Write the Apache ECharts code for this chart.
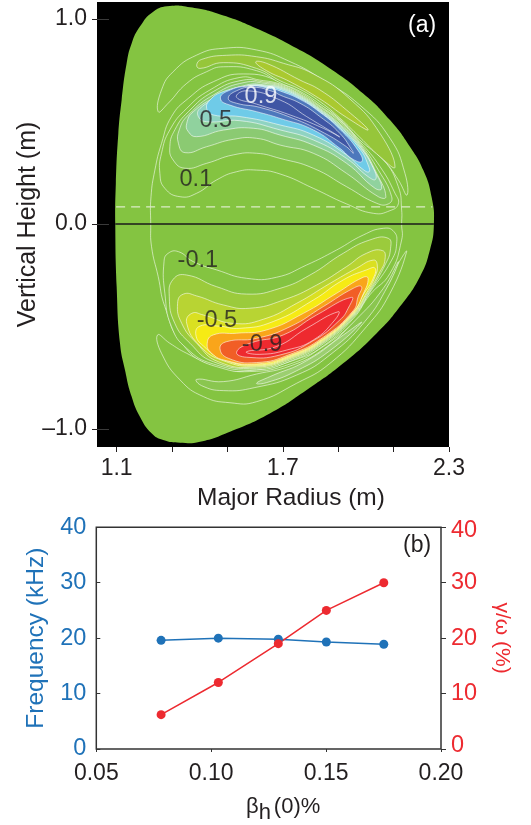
<!DOCTYPE html>
<html><head><meta charset="utf-8">
<script src="https://cdn.jsdelivr.net/npm/echarts@6/dist/echarts.min.js"></script>
<style>html,body{margin:0;padding:0;background:#fff}#c{width:531px;height:825px}</style>
</head><body><div id="c"></div>
<script>
const plasmaBoundary=[[2.2455,0],[2.237,.133],[2.207,.263],[2.159,.377],[2.087,.507],[1.990,.637],[1.870,.759],[1.750,.857],[1.605,.954],[1.461,1.028],[1.365,1.057],[1.292,1.063],[1.232,1.036],[1.184,.963],[1.154,.881],[1.136,.784],[1.118,.605],[1.106,.442],[1.097,.198],[1.095,0],[1.100,-.306],[1.112,-.582],[1.130,-.712],[1.154,-.842],[1.184,-.940],[1.226,-1.021],[1.268,-1.054],[1.329,-1.067],[1.401,-1.062],[1.509,-1.013],[1.653,-.924],[1.786,-.810],[1.918,-.680],[2.039,-.533],[2.123,-.403],[2.195,-.257],[2.231,-.127]];
const zeroContour=[[1.223,0],[1.224,.133],[1.238,.263],[1.262,.393],[1.298,.524],[1.359,.613],[1.449,.694],[1.557,.732],[1.690,.694],[1.834,.589],[1.978,.413],[2.063,.315],[2.117,.182],[2.129,.068],[2.129,0],[2.129,-.078],[2.087,-.241],[2.014,-.346],[1.954,-.462],[1.846,-.595],[1.750,-.660],[1.581,-.715],[1.449,-.696],[1.335,-.582],[1.274,-.403],[1.250,-.257],[1.226,-.111]];
const upperCrescent=[[1.250,.548],[1.262,.654],[1.304,.743],[1.389,.824],[1.485,.857],[1.605,.849],[1.726,.792],[1.846,.702],[1.978,.580],[2.087,.418],[2.141,.247],[2.148,.141],[2.117,.215],[2.063,.312],[1.978,.410],[1.906,.511],[1.834,.585],[1.762,.647],[1.690,.689],[1.605,.748],[1.485,.767],[1.425,.743],[1.353,.686],[1.286,.589]];
const upperCrescentA=[[1.389,.776],[1.407,.803],[1.497,.823],[1.605,.816],[1.702,.784],[1.810,.732],[1.942,.610],[2.051,.442],[2.105,.278],[2.051,.328],[1.978,.423],[1.906,.517],[1.834,.597],[1.762,.657],[1.690,.699],[1.605,.759],[1.485,.787],[1.401,.759]];
const upperCrescentB=[[1.602,.790],[1.641,.784],[1.762,.702],[1.834,.654],[1.930,.556],[2.008,.459],[1.930,.520],[1.834,.610],[1.726,.694],[1.641,.748]];
const pos01=[[1.329,.133],[1.274,.174],[1.256,.247],[1.262,.345],[1.292,.459],[1.353,.564],[1.437,.654],[1.545,.715],[1.617,.702],[1.690,.683],[1.762,.641],[1.834,.576],[1.906,.504],[1.978,.402],[2.051,.280],[2.105,.150],[2.117,.098],[2.087,.065],[2.027,.052],[1.930,.098],[1.810,.174],[1.690,.244],[1.605,.263],[1.533,.255],[1.461,.215],[1.389,.150]];
const pos02=[[1.347,.272],[1.304,.312],[1.292,.377],[1.310,.459],[1.359,.548],[1.449,.646],[1.557,.702],[1.629,.693],[1.690,.678],[1.762,.634],[1.834,.571],[1.906,.498],[1.978,.395],[2.045,.263],[2.093,.133],[2.081,.098],[2.039,.101],[1.930,.182],[1.810,.272],[1.690,.320],[1.605,.345],[1.521,.337],[1.425,.296]];
const pos03=[[1.347,.348],[1.323,.393],[1.326,.459],[1.359,.532],[1.455,.634],[1.563,.691],[1.635,.686],[1.690,.673],[1.762,.629],[1.834,.564],[1.906,.489],[1.978,.389],[2.039,.247],[2.072,.133],[2.045,.133],[1.930,.247],[1.810,.345],[1.690,.385],[1.605,.418],[1.521,.413],[1.425,.377]];
const pos04=[[1.389,.426],[1.359,.450],[1.353,.491],[1.377,.548],[1.461,.621],[1.569,.678],[1.641,.678],[1.690,.668],[1.762,.624],[1.834,.559],[1.906,.483],[1.978,.382],[2.033,.255],[2.057,.174],[2.033,.174],[1.930,.296],[1.810,.385],[1.690,.434],[1.593,.467],[1.485,.458]];
const pos05=[[1.425,.499],[1.395,.524],[1.401,.564],[1.467,.613],[1.575,.673],[1.647,.673],[1.690,.663],[1.762,.619],[1.834,.554],[1.906,.476],[1.978,.376],[2.027,.272],[2.035,.218],[2.008,.231],[1.930,.320],[1.810,.410],[1.690,.459],[1.545,.504]];
const pos06=[[1.449,.532],[1.425,.564],[1.437,.605],[1.485,.646],[1.581,.673],[1.653,.668],[1.690,.657],[1.762,.613],[1.834,.548],[1.906,.468],[1.978,.366],[2.008,.288],[2.011,.254],[1.984,.272],[1.930,.337],[1.810,.434],[1.690,.483],[1.545,.524]];
const pos07=[[1.509,.580],[1.475,.610],[1.497,.646],[1.581,.673],[1.659,.660],[1.690,.649],[1.762,.608],[1.834,.545],[1.906,.462],[1.972,.358],[1.986,.306],[1.954,.315],[1.906,.369],[1.810,.459],[1.690,.515],[1.605,.548]];
const pos08=[[1.533,.589],[1.503,.613],[1.533,.650],[1.593,.667],[1.665,.646],[1.690,.629],[1.762,.589],[1.834,.524],[1.906,.442],[1.948,.364],[1.954,.345],[1.930,.377],[1.834,.455],[1.738,.515],[1.617,.569]];
const pos09=[[1.533,.618],[1.569,.650],[1.690,.605],[1.786,.524],[1.904,.426],[1.846,.467],[1.726,.532],[1.605,.585]];
const lowerCrescent=[[1.248,-.541],[1.262,-.631],[1.329,-.761],[1.413,-.842],[1.509,-.872],[1.605,-.867],[1.750,-.777],[1.870,-.680],[2.002,-.501],[2.087,-.338],[2.147,-.135],[2.117,-.192],[2.063,-.330],[1.966,-.468],[1.846,-.598],[1.726,-.683],[1.581,-.720],[1.461,-.696],[1.353,-.631],[1.292,-.582]];
const lowerCrescentA=[[1.389,-.758],[1.407,-.789],[1.485,-.813],[1.599,-.798],[1.750,-.737],[1.870,-.639],[1.996,-.476],[2.081,-.298],[2.117,-.184],[2.063,-.314],[1.960,-.472],[1.846,-.611],[1.726,-.693],[1.605,-.732],[1.485,-.769]];
const lowerCrescentB=[[1.605,-.777],[1.641,-.774],[1.750,-.716],[1.870,-.618],[1.984,-.481],[1.918,-.542],[1.786,-.667],[1.653,-.745]];
const neg01=[[1.271,-.184],[1.286,-.143],[1.323,-.135],[1.377,-.184],[1.461,-.224],[1.569,-.265],[1.677,-.260],[1.786,-.200],[1.894,-.127],[1.990,-.054],[2.063,-.021],[2.101,-.037],[2.111,-.094],[2.093,-.176],[2.014,-.335],[1.954,-.455],[1.846,-.585],[1.726,-.670],[1.605,-.711],[1.449,-.683],[1.353,-.607],[1.298,-.501],[1.274,-.338]];
const neg02=[[1.290,-.355],[1.304,-.270],[1.353,-.249],[1.461,-.306],[1.569,-.342],[1.690,-.314],[1.798,-.249],[1.918,-.143],[2.014,-.078],[2.081,-.070],[2.089,-.119],[2.072,-.192],[2.008,-.342],[1.954,-.449],[1.846,-.579],[1.726,-.663],[1.605,-.704],[1.449,-.672],[1.365,-.582],[1.310,-.485]];
const neg03=[[1.320,-.387],[1.341,-.342],[1.389,-.351],[1.485,-.395],[1.581,-.411],[1.702,-.371],[1.822,-.298],[1.930,-.208],[2.002,-.143],[2.060,-.130],[2.069,-.172],[2.051,-.233],[2.002,-.346],[1.954,-.444],[1.846,-.574],[1.726,-.657],[1.605,-.698],[1.467,-.672],[1.389,-.582],[1.335,-.485]];
const neg04=[[1.353,-.485],[1.371,-.436],[1.413,-.444],[1.521,-.485],[1.629,-.465],[1.750,-.387],[1.870,-.290],[1.966,-.216],[2.027,-.176],[2.041,-.200],[2.033,-.257],[1.996,-.351],[1.954,-.439],[1.846,-.569],[1.726,-.652],[1.605,-.693],[1.485,-.667],[1.401,-.595]];
const neg05=[[1.386,-.541],[1.401,-.498],[1.467,-.498],[1.545,-.509],[1.665,-.476],[1.810,-.371],[1.918,-.273],[2.002,-.224],[2.033,-.216],[2.024,-.273],[1.990,-.346],[1.954,-.434],[1.846,-.564],[1.726,-.647],[1.605,-.688],[1.485,-.660],[1.413,-.595]];
const neg06=[[1.443,-.631],[1.427,-.582],[1.449,-.541],[1.533,-.533],[1.641,-.517],[1.774,-.436],[1.894,-.338],[1.990,-.260],[2.008,-.265],[1.990,-.342],[1.954,-.429],[1.846,-.559],[1.726,-.642],[1.605,-.683],[1.497,-.667]];
const neg07=[[1.503,-.655],[1.473,-.607],[1.497,-.574],[1.605,-.558],[1.726,-.501],[1.846,-.403],[1.954,-.314],[1.984,-.306],[1.972,-.355],[1.954,-.423],[1.846,-.553],[1.726,-.636],[1.605,-.676]];
const neg08=[[1.569,-.650],[1.533,-.626],[1.581,-.582],[1.702,-.541],[1.822,-.444],[1.948,-.358],[1.936,-.411],[1.906,-.468],[1.810,-.569],[1.690,-.639]];
const neg09=[[1.569,-.623],[1.677,-.598],[1.786,-.509],[1.900,-.428],[1.888,-.468],[1.810,-.566],[1.714,-.615],[1.617,-.636]];
const contourLabels=[[1.621,.624,'0.9','#ffffff'],[1.458,.507,'0.5','#231f20'],[1.386,.215,'0.1','#231f20'],[1.393,-.18,'-0.1','#231f20'],[1.462,-.473,'-0.5','#231f20'],[1.625,-.59,'-0.9','#231f20']];
const midplane=[[1.095,0],[2.2455,0]];
const dashedLine=[[1.098,.083],[2.24,.083]];
const radiusTicks=[1.1,1.3,1.5,1.7,1.9,2.1,2.3];
const radiusLabels=[1.1,1.7,2.3];
const heightTicks=[-1,0,1];
const betaH=[0.0782,0.1031,0.1292,0.1501,0.1751];
const frequency=[19.6,20,19.8,19.3,18.9];
const growth=[6.2,12,19,25,30];

const GREEN='#84c441',W='rgba(255,255,255,.8)';
const layers=[
 [plasmaBoundary,GREEN,null],
 [zeroContour,null,W],
 [upperCrescent,GREEN,W],[upperCrescentA,'#96c63a',W],[upperCrescentB,'#aac92f',W],
 [pos01,GREEN,W],[pos02,'#86c655',W],[pos03,'#8bca72',W],[pos04,'#90d29e',W],[pos05,'#8fd3c2',W],[pos06,'#6fcbe8',W],[pos07,'#4d78bc',W],[pos08,'#3f55a4',W],[pos09,'#3f55a4',W],
 [lowerCrescent,GREEN,W],[lowerCrescentA,'#8ac650',W],[lowerCrescentB,'#9ccf70',W],
 [neg01,GREEN,W],[neg02,'#9bcb3c',W],[neg03,'#b8d433',W],[neg04,'#dae021',W],[neg05,'#f6eb14',W],[neg06,'#f9a51a',W],[neg07,'#f15e26',W],[neg08,'#ee2a2f',W],[neg09,'#ee2a2f',W]
];
const INK='#231f20',BLUE='#1f72b8',RED='#ed2a30',FONT='"Liberation Sans",Arial,sans-serif';
const chart=echarts.init(document.getElementById('c'),null,{renderer:'canvas'});
chart.setOption({
 animation:false,backgroundColor:'#fff',textStyle:{fontFamily:FONT},
 grid:[
  {left:97,top:2,width:352,height:445,show:true,backgroundColor:'#000',borderWidth:0},
  {left:96.3,top:527.3,width:344.7,height:224,show:true,backgroundColor:'transparent',borderColor:'#333',borderWidth:1.5}
 ],
 xAxis:[
  {gridIndex:0,type:'value',min:1.029,max:2.3,position:'bottom',splitLine:{show:false},
   axisLine:{show:false,onZero:false},
   axisTick:{show:true,length:5,customValues:radiusTicks,lineStyle:{color:INK,width:1}},
   axisLabel:{customValues:radiusLabels,formatter:v=>v.toFixed(1),fontSize:23,color:INK,margin:10,fontFamily:FONT},
   name:'Major Radius (m)',nameLocation:'middle',nameGap:39,nameTextStyle:{fontSize:24.5,color:INK,fontFamily:FONT,padding:[0,0,0,36]}},
  {gridIndex:1,type:'value',min:0.05,max:0.2,interval:0.05,splitLine:{show:false},
   axisLine:{show:false,onZero:false},axisTick:{show:true,length:3,lineStyle:{color:'#333'}},
   axisLabel:{formatter:v=>v.toFixed(2),fontSize:23,color:INK,margin:13,fontFamily:FONT},
   name:'{b|β}{s|h}{b|(0)%}',nameLocation:'middle',nameGap:41,
   nameTextStyle:{padding:[0,0,0,29],rich:{b:{fontSize:22,color:INK,fontFamily:FONT},s:{fontSize:22,color:INK,fontFamily:FONT,verticalAlign:'top',padding:[12,3,0,0]}}}}
 ],
 yAxis:[
  {gridIndex:0,type:'value',min:-1.088,max:1.083,position:'left',splitLine:{show:false},
   axisLine:{show:false,onZero:false},
   axisTick:{show:true,length:5,customValues:heightTicks,lineStyle:{color:INK,width:1}},
   axisLabel:{customValues:heightTicks,formatter:v=>v.toFixed(1).replace('-','–'),fontSize:23,color:INK,margin:10,fontFamily:FONT},
   name:'Vertical Height (m)',nameLocation:'middle',nameMoveOverlap:false,nameGap:56,nameTextStyle:{fontSize:25,color:INK,fontFamily:FONT}},
  {gridIndex:0,type:'value',min:-1.088,max:1.083,position:'left',splitLine:{show:false},
   axisLine:{show:false,onZero:false},
   axisTick:{show:true,inside:true,length:12,customValues:heightTicks,lineStyle:{color:'#3a3a3a',width:1}},
   axisLabel:{show:false}},
  {gridIndex:1,type:'value',min:0,max:40,interval:10,position:'left',splitLine:{show:false},
   axisLine:{show:false,onZero:false},axisTick:{show:true,inside:true,length:4,lineStyle:{color:'#333'}},
   axisLabel:{fontSize:23.5,color:BLUE,margin:10,fontFamily:FONT},
   name:'Frequency (kHz)',nameLocation:'middle',nameGap:40,nameTextStyle:{fontSize:24.5,color:BLUE,fontFamily:FONT,padding:[0,0,8,0]}},
  {gridIndex:1,type:'value',min:0,max:40,interval:10,position:'right',splitLine:{show:false},
   axisLine:{show:false,onZero:false},axisTick:{show:true,length:5,lineStyle:{color:'#333'}},
   axisLabel:{fontSize:23.5,color:RED,margin:10,fontFamily:FONT,
    formatter:v=>v===40?'{t|40}':v===0?'{u|0}':String(v),
    rich:{t:{fontSize:23.5,color:RED,fontFamily:FONT,padding:[6,0,0,0]},u:{fontSize:23.5,color:RED,fontFamily:FONT,padding:[0,0,6,0]}}},
   name:'γ/ω (%)',nameLocation:'middle',nameMoveOverlap:false,nameRotate:-90,nameGap:42,nameTextStyle:{fontSize:21,color:RED,fontFamily:FONT,padding:[0,0,8,0]}}
 ],
 series:[
  {type:'custom',xAxisIndex:0,yAxisIndex:0,silent:true,clip:false,data:layers.map((l,i)=>[i]),
   renderItem:(p,api)=>{const l=layers[api.value(0)];
    return {type:'polygon',shape:{points:l[0].map(q=>api.coord(q)),smooth:0.5},
     style:{fill:l[1]||'transparent',stroke:l[2]||'transparent',lineWidth:l[2]?0.7:0}};}},
  {type:'line',xAxisIndex:0,yAxisIndex:0,data:dashedLine,symbol:'none',silent:true,lineStyle:{color:'#dcebc8',width:1.3,type:[9,6]}},
  {type:'line',xAxisIndex:0,yAxisIndex:0,data:midplane,symbol:'none',silent:true,lineStyle:{color:'#1a1a1a',width:1.5}},
  {type:'scatter',xAxisIndex:0,yAxisIndex:0,symbolSize:0,silent:true,
   data:contourLabels.map(l=>({value:[l[0],l[1]],label:{show:true,position:'inside',formatter:l[2],color:l[3],fontSize:23.5,fontFamily:FONT}}))},
  {type:'line',name:'Frequency',xAxisIndex:1,yAxisIndex:2,data:betaH.map((x,i)=>[x,frequency[i]]),symbol:'circle',symbolSize:9,lineStyle:{color:BLUE,width:1.5},itemStyle:{color:BLUE}},
  {type:'line',name:'Growth',xAxisIndex:1,yAxisIndex:3,data:betaH.map((x,i)=>[x,growth[i]]),symbol:'circle',symbolSize:9,lineStyle:{color:RED,width:1.5},itemStyle:{color:RED}}
 ],
 graphic:[
  {type:'text',left:408,top:14,style:{text:'(a)',fill:'#fff',fontSize:23,fontFamily:FONT}},
  {type:'text',left:403,top:534,style:{text:'(b)',fill:INK,fontSize:23,fontFamily:FONT}}
 ]
});
</script></body></html>
